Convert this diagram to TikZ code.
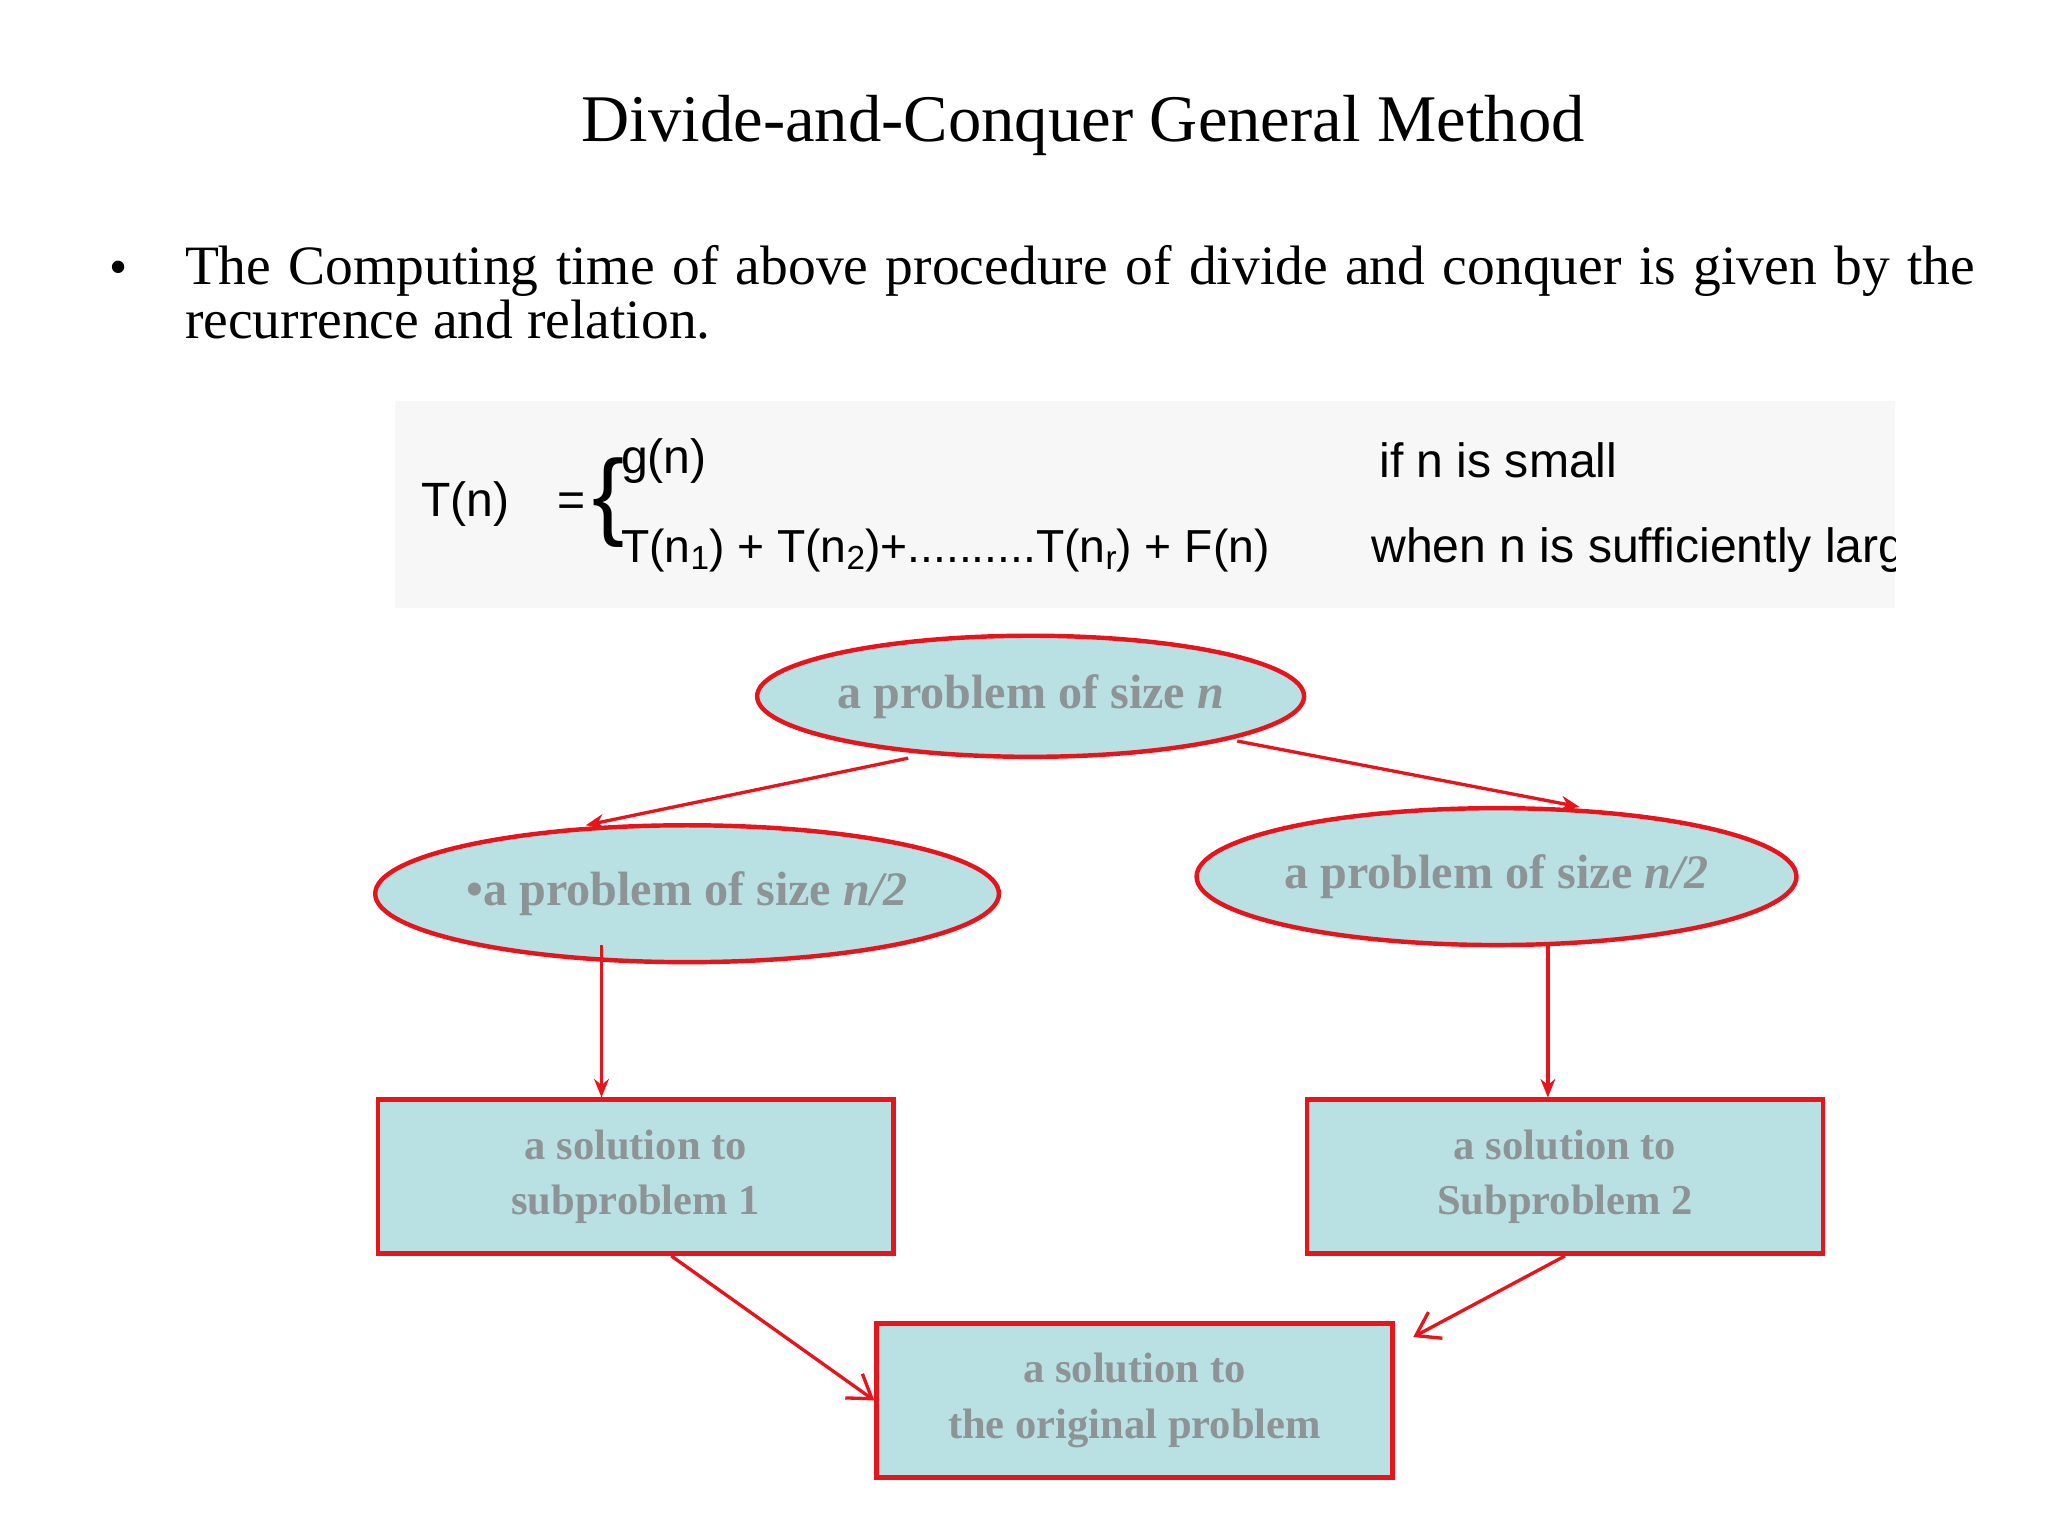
\documentclass[tikz,border=0pt]{standalone}
\usepackage{fontspec}
\setmainfont{Liberation Serif}
\newfontfamily\formfont{Liberation Sans}
\usetikzlibrary{shapes.geometric,arrows.meta,calc}
\definecolor{cyanfill}{HTML}{B9E0E3}
\definecolor{txtgray}{HTML}{8E9496}
\definecolor{lred}{HTML}{E8141C}
\tikzset{
 ell/.style={ellipse,draw=lred,line width=1.2pt,fill=cyanfill,inner sep=0pt,text=txtgray,font=\fontsize{13}{16}\selectfont\bfseries},
 sbox/.style={rectangle,draw=lred,line width=1.2pt,fill=cyanfill,minimum width=392*0.0125cm,minimum height=117*0.0125cm,text=txtgray,align=center,font=\fontsize{11.5}{15}\selectfont\bfseries},
 con/.style={draw=lred,line width=0.9pt,-{Stealth[length=5pt,width=4pt]}},
 ocon/.style={draw=lred,line width=0.9pt,-{Straight Barb[length=6pt,width=8pt]}},
 ff/.style={anchor=west,font=\formfont\fontsize{13}{16}\selectfont}
}
\newcommand{\sbs}[1]{\raisebox{-0.3ex}{\fontsize{9}{9}\selectfont #1}}
\begin{document}
\begin{tikzpicture}[x=0.0125cm,y=-0.0125cm]
\useasboundingbox (0,0) rectangle (1556,1167);
\node (title) at (823,95) {\fontsize{18}{22}\selectfont Divide-and-Conquer General Method};
\node (bul) at (90,207) {\fontsize{14}{18}\selectfont •};
\node[anchor=north west,text width=1360*0.0125cm,align=justify,inner sep=0pt] (para) at (140,186)
 {\fontsize{15}{22.5}\selectfont The Computing time of above procedure of divide and conquer is given by the recurrence and relation.};
\fill[gray!6] (300,305) rectangle (1440,462);
\node[ff] (tn) at (310,383) {T(n)\quad =};
\node[anchor=west,font=\formfont\fontsize{26}{26}\selectfont] (br) at (440,382) {\{};
\node[ff] (g) at (462,350) {g(n)};
\node[ff,font=\formfont\fontsize{12.5}{16}\selectfont] (t) at (462,418) {T(n\sbs{1}) + T(n\sbs{2})+..........T(n\sbs{r}) + F(n)};
\node[ff] (c1) at (1038,350) {if n is small};
\begin{scope}
\clip (300,305) rectangle (1440,462);
\node[ff] (c2) at (1032,418) {when n is sufficiently large};
\end{scope}
\node[ell,minimum width=392*0.0125cm,minimum height=92*0.0125cm] (top) at (783,529) {a problem of size \textit{n}};
\node[ell,minimum width=444*0.0125cm,minimum height=104*0.0125cm] (left) at (522,679) {•a problem of size \textit{n/2}};
\node[ell,minimum width=392*0.0125cm,minimum height=104*0.0125cm] (right) at (1137,666) {a problem of size \textit{n/2}};
\node[sbox] (s1) at (483,894) {a solution to\\subproblem 1};
\node[sbox] (s2) at (1189,894) {a solution to\\Subproblem 2};
\node[sbox] (s3) at (862,1064) {a solution to\\the original problem};
\coordinate (a1) at (690,576); \coordinate (a2) at (445,627);
\coordinate (b1) at (940,563); \coordinate (b2) at (1200,613);
\draw[con] (a1) -- (a2);
\draw[con] (b1) -- (b2);
\draw[con] (457,718) -- (s1.north -| 457,0);
\draw[con] (1176,718) -- (s2.north -| 1176,0);
\draw[ocon] (s1.south) ++(27,0) -- (s3.west);
\draw[ocon] (s2.south) -- ($(s3.north east)+(14,12)$);
\end{tikzpicture}
\end{document}
